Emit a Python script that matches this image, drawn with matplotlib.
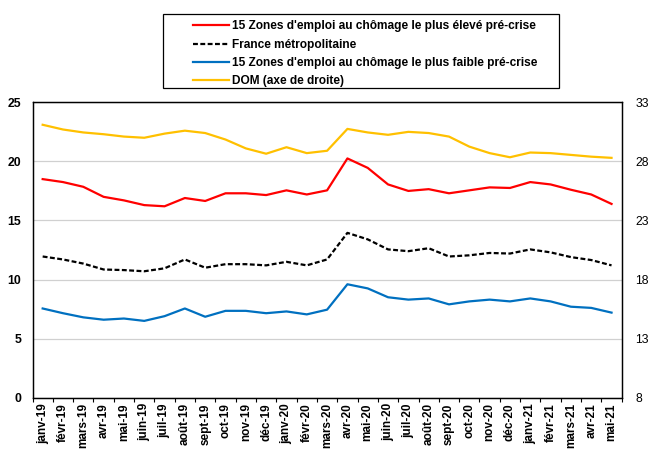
import numpy as np
import matplotlib
matplotlib.use('Agg')
from matplotlib import pyplot as plt
from matplotlib.patches import Rectangle

plt.rcParams['font.family'] = ['Liberation Sans', 'DejaVu Sans']

months = ['janv-19', 'févr-19', 'mars-19', 'avr-19', 'mai-19', 'juin-19', 'juil-19',
          'août-19', 'sept-19', 'oct-19', 'nov-19', 'déc-19', 'janv-20', 'févr-20',
          'mars-20', 'avr-20', 'mai-20', 'juin-20', 'juil-20', 'août-20', 'sept-20',
          'oct-20', 'nov-20', 'déc-20', 'janv-21', 'févr-21', 'mars-21', 'avr-21', 'mai-21']

# 15 zones with the highest pre-crisis unemployment
haut = [18.5, 18.25, 17.85, 17.0, 16.7, 16.3, 16.2, 16.9, 16.65, 17.3, 17.3, 17.15, 17.55, 17.2,
        17.55, 20.25, 19.45, 18.05, 17.5, 17.65, 17.3, 17.55, 17.8, 17.75, 18.25, 18.05, 17.6, 17.2, 16.4]
# France metropolitaine
france = [11.95, 11.7, 11.35, 10.85, 10.8, 10.7, 10.95, 11.7, 11.0, 11.3, 11.3, 11.2, 11.5, 11.2,
          11.7, 13.95, 13.4, 12.55, 12.4, 12.65, 11.95, 12.05, 12.25, 12.2, 12.55, 12.3, 11.9, 11.65, 11.2]
# 15 zones with the lowest pre-crisis unemployment
bas = [7.55, 7.15, 6.8, 6.6, 6.7, 6.5, 6.9, 7.55, 6.85, 7.35, 7.35, 7.15, 7.3, 7.05,
       7.45, 9.6, 9.25, 8.5, 8.3, 8.4, 7.9, 8.15, 8.3, 8.15, 8.4, 8.15, 7.7, 7.6, 7.2]
# DOM, right axis
dom = [31.1, 30.7, 30.45, 30.3, 30.1, 30.0, 30.35, 30.6, 30.4, 29.85, 29.1, 28.65, 29.2, 28.7,
       28.9, 30.75, 30.45, 30.25, 30.5, 30.4, 30.1, 29.25, 28.7, 28.35, 28.75, 28.7, 28.55, 28.4, 28.3]

labels = ['15 Zones d\'emploi au chômage le plus élevé pré-crise',
          'France métropolitaine',
          '15 Zones d\'emploi au chômage le plus faible pré-crise',
          'DOM (axe de droite)']

left_ticks = [0, 5, 10, 15, 20, 25]
right_ticks = [8, 13, 18, 23, 28, 33]

W, H = 654, 457
fig = plt.figure(figsize=(W / 100, H / 100), dpi=100)
ax = fig.add_axes([0.0497, 0.1298, 0.9009, 0.6463])
ax2 = ax.twinx()

x = np.arange(len(months))
l1, = ax.plot(x, haut, color='#FF0000', lw=1.6)
l2, = ax.plot(x, france, color='black', lw=1.6, dashes=(2.2, 1.1))
l3, = ax.plot(x, bas, color='#0070C0', lw=1.6)
l4, = ax2.plot(x, dom, color='#FFC000', lw=1.6)

ax.set_xlim(-0.5, len(months) - 0.5)
ax.set_ylim(0, 25)
ax2.set_ylim(8, 33)
ax.set_yticks(left_ticks)
ax2.set_yticks(right_ticks)
ax.grid(axis='y', color='#D0D0D0', lw=0.9)
ax.set_axisbelow(True)

ax.set_xticks(x)
ax.set_xticklabels(months, rotation=90, fontsize=8.5, fontweight='bold')
ax.set_xticks(np.arange(-0.5, len(months)), minor=True)
ax.tick_params(axis='x', which='major', length=0, pad=4)
ax.tick_params(axis='x', which='minor', length=3, direction='out', width=0.8)
ax.tick_params(axis='y', length=0, labelsize=8.8, pad=8)
for t in ax.get_yticklabels():
    t.set_fontweight('bold')
ax2.tick_params(axis='y', length=0, labelsize=8.8, pad=10)

for a in (ax, ax2):
    for s in a.spines.values():
        s.set_linewidth(0.9)
        s.set_color('black')

# legend box drawn by hand (Excel style: wide left margin)
fig.patches.append(Rectangle((162.7 / W, 1 - 88.3 / H), (559 - 162.7) / W, (88.3 - 14) / H,
                             transform=fig.transFigure, fill=False, ec='black', lw=0.9))
leg = fig.legend([l1, l2, l3, l4], labels,
                 loc='upper left', bbox_to_anchor=(193 / W, 1 - 20.5 / H),
                 prop={'size': 8.6, 'weight': 'bold'}, frameon=False,
                 handlelength=3.0, handletextpad=0.25,
                 labelspacing=0.52, borderpad=0, borderaxespad=0)

fig.savefig('out.png', dpi=100)
